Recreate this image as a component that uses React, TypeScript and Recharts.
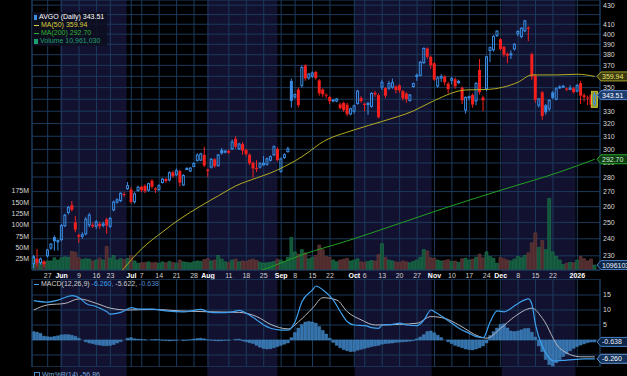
import React from "react";
import {
  ComposedChart,
  Bar,
  Line,
  XAxis,
  YAxis,
  CartesianGrid,
  ReferenceArea,
  ReferenceLine,
  Cell,
} from "recharts";

// ---------- look ----------
const FONT = "'Liberation Sans', Arial, Helvetica, sans-serif";
const GRID = "#1b3a5c";
const BAND = "#121230";
const BLUE = "#3a8ee6";
const RED = "#f5201e";
const MA50_COLOR = "#b4ac22";
const MA200_COLOR = "#22a022";
const MACD_COLOR = "#3ea0ee";
const SIGNAL_COLOR = "#b8b8c2";
const HIST_COLOR = "#3473ad";
const AXIS_TEXT = "#d8d8d8";

// ---------- calendar (categories) ----------
const FIRST_SESSION = "2025-05-20";
const SESSION_COUNT = 163; // last slot (2026-01-12) is empty
const HOLIDAYS = ["2025-05-26", "2025-06-19", "2025-07-04", "2025-09-01", "2025-11-27", "2025-12-25", "2026-01-01"];

function buildSessions(): string[] {
  const out: string[] = [];
  const d = new Date(FIRST_SESSION + "T00:00:00Z");
  while (out.length < SESSION_COUNT) {
    const iso = d.toISOString().slice(0, 10);
    const wd = d.getUTCDay();
    if (wd !== 0 && wd !== 6 && !HOLIDAYS.includes(iso)) out.push(iso);
    d.setUTCDate(d.getUTCDate() + 1);
  }
  return out;
}
const SESSIONS = buildSessions();

// ---------- x tick labels ----------
const TICK_DATES = [
  "2025-05-27", "2025-06-02", "2025-06-09", "2025-06-16", "2025-06-23", "2025-07-01", "2025-07-07",
  "2025-07-14", "2025-07-21", "2025-07-28", "2025-08-01", "2025-08-11", "2025-08-18", "2025-08-25",
  "2025-09-02", "2025-09-08", "2025-09-15", "2025-09-22", "2025-10-01", "2025-10-06", "2025-10-13",
  "2025-10-20", "2025-10-27", "2025-11-03", "2025-11-10", "2025-11-17", "2025-11-24", "2025-12-01",
  "2025-12-08", "2025-12-15", "2025-12-22", "2026-01-02",
];
const TICK_LABELS = [
  "27", "Jun", "9", "16", "23", "Jul", "7", "14", "21", "28", "Aug", "11", "18", "25", "Sep", "8",
  "15", "22", "Oct", "6", "13", "20", "27", "Nov", "10", "17", "24", "Dec", "8", "15", "22", "2026",
];
const BOLD_LABELS = ["Jun", "Jul", "Aug", "Sep", "Oct", "Nov", "Dec", "2026"];
const MONTH_BANDS: [string, string][] = [
  ["2025-06-02", "2025-07-01"],
  ["2025-08-01", "2025-09-02"],
  ["2025-10-01", "2025-11-03"],
  ["2025-12-01", "2026-01-02"],
];

// ---------- price (daily OHLC) ----------
const OPENS = [
  225.5, 228.5, 226.2, 226.8, 230, 234.5, 241, 238.2, 239.5, 248,
  256.3, 261, 250, 242.2, 241.5, 243, 248.5, 248.6, 247.6, 249.2,
  248.2, 252, 247.6, 258, 263, 264, 268.4, 272, 271.5, 263.2,
  270.8, 273.3, 274, 271, 277.5, 272.2, 271.3, 276.2, 278.6, 278,
  283.4, 281.5, 284.2, 274.5, 285.5, 284.3, 287.5, 291.9, 292, 296,
  285.2, 287, 292.7, 288, 299.5, 297.9, 298.8, 300.4, 308, 300.4,
  304, 299.5, 296, 290, 286.3, 287, 288.6, 289, 292, 296,
  300.4, 284, 294, 298.3, 356, 342, 348.5, 352, 370, 358.5,
  360.2, 364, 356.5, 348.5, 344, 342, 338.6, 338.5, 335.8, 337,
  335.5, 327.7, 330, 336.5, 341, 336.3, 335.5, 334, 345.5, 343.5,
  350.5, 349.6, 349.6, 350.5, 351, 352, 347, 345, 339, 351,
  360, 361, 372.5, 386, 378, 372, 351.5, 358.5, 359.8, 353.6,
  356.5, 357.5, 356, 350, 331, 341.5, 343.6, 338.6, 365.7, 341.6,
  349, 384, 384.6, 398.6, 395, 387.5, 381, 379.8, 385.5, 400.5,
  397.6, 403.3, 406.6, 380.5, 361, 335, 346, 335, 332, 346,
  340, 349.9, 350.7, 349.3, 348.5, 349.5, 347, 354, 343.5, 341.6,
  343.5, 336,
];
const HIGHS = [
  230.5, 234, 229, 227.5, 234, 237.5, 242, 239.5, 249, 255.5,
  260.5, 263.7, 254, 243, 244, 253.5, 256, 250, 251.5, 250.5,
  250.5, 253, 253.5, 264, 265.5, 269.5, 269.5, 276.5, 273, 269.5,
  274, 274, 275, 276, 278.5, 273, 275, 279.5, 279.5, 284,
  284.5, 286, 285, 282, 287, 287, 290.5, 297, 297.5, 302,
  286, 293.5, 293.5, 296.5, 301, 299.5, 300, 307.5, 310, 305,
  305.5, 300.5, 297, 291, 292, 290.5, 295, 294, 295.5, 303,
  301.5, 294, 297, 302, 358, 345, 350, 370, 371, 363,
  364.5, 365, 357.5, 349.5, 345, 343, 340, 341, 337, 338,
  337, 333, 335.5, 348, 342.5, 337, 338, 346, 347, 345,
  357, 350.5, 356, 358, 352, 353, 348, 346, 344.5, 354.5,
  362.5, 374, 387, 387, 379, 373, 360, 362, 361, 355,
  359.5, 359, 357, 351, 342.5, 343, 345, 355, 376, 343,
  379, 388, 399, 404, 396, 388.5, 382, 384, 391, 404,
  407, 414.5, 408, 382, 362, 341, 347, 336, 340, 347,
  350.5, 352, 352.5, 350, 352, 350.5, 353, 356, 345, 343,
  344.5, 346,
];
const LOWS = [
  223, 224, 225, 224, 229, 233.5, 233, 233, 238.5, 247,
  255, 257, 244, 237.5, 240, 242, 247, 246.5, 246, 246,
  247, 243, 246.5, 257, 262, 263, 266.5, 271, 262, 262,
  270, 269.5, 269, 270, 272, 269, 270.5, 275.5, 276, 277,
  279.5, 281, 273.5, 274, 285, 283.5, 287, 291, 291.5, 287,
  280, 286, 286.5, 287.5, 296, 297, 296.5, 299.5, 300.5, 299.5,
  296, 295, 288.5, 279.5, 283.5, 286, 288, 288, 291, 295,
  291, 283, 293, 297.5, 333, 340.5, 333, 350, 356, 357,
  358.5, 357, 343, 342, 341, 336, 337.5, 337.5, 331.5, 329.5,
  326, 326.5, 328, 335.5, 337, 330, 327, 333, 342, 324,
  348, 341, 348, 349, 345, 345.5, 339, 337, 338, 350,
  356, 360, 371.5, 376, 367, 356, 350, 355, 352, 345,
  353, 349, 353, 336, 328, 339, 333, 335, 344, 330,
  347, 373, 383, 397, 384, 378, 372, 376, 384, 398,
  396, 402, 393, 357, 337, 333, 323, 327, 330, 340,
  339, 349, 350, 347, 348, 345, 346, 336, 338, 335,
  333, 334,
];
const CLOSES = [
  229.5, 226, 228.2, 225.3, 233.4, 236.8, 238.5, 238.9, 248, 254.5,
  259.4, 258, 245.5, 241.2, 242.5, 252, 254.6, 247.5, 250.3, 247.6,
  249, 248, 252.5, 263, 264.5, 268.8, 267.8, 274, 263, 268.5,
  273, 271, 270.3, 275.4, 273.2, 271.2, 274, 278.5, 277.2, 283,
  280.5, 284.5, 276, 281, 286, 286.3, 289.6, 295.8, 296.6, 288,
  284.2, 292.7, 287.6, 295.8, 297, 298.7, 297.5, 305.5, 302, 304,
  299, 296.6, 289.7, 286, 285.5, 289.5, 289.8, 293, 294.6, 302,
  292, 293, 296, 300.4, 338.6, 344, 335, 368, 358, 362,
  363, 358.5, 345, 344.2, 343, 338.3, 339.4, 340.2, 332.5, 331,
  327.5, 332, 334.5, 347, 338.5, 335.2, 336.5, 345, 344, 325,
  354.5, 343, 353.6, 354.3, 348, 347.5, 340.8, 340, 343.6, 353.6,
  361, 373, 386, 378, 370, 357, 358.5, 359.8, 354.6, 348.5,
  358, 351, 354, 339, 341.5, 342.2, 335.5, 353.6, 346, 339,
  378, 386.7, 397.6, 403, 385.4, 380, 379, 380.8, 390, 402.6,
  406, 413.5, 405.3, 359.7, 339.5, 340.2, 326, 329, 339, 341.2,
  349, 350.6, 351.2, 348.2, 349.6, 346, 352, 343, 341.8, 341,
  335.5, 343.51,
];

// ---------- volume (millions) ----------
const VOLUME_M = [
  27, 22, 17, 18, 20, 20, 27, 22, 27, 29,
  28, 41, 39, 27, 23, 25, 24, 20, 22, 26,
  22, 52, 26, 32, 22, 25, 23, 26, 32, 20,
  15, 16, 17, 18, 16, 17, 15, 18, 16, 19,
  17, 15, 22, 18, 17, 16, 18, 20, 19, 23,
  25, 20, 22, 32, 24, 18, 17, 22, 24, 18,
  20, 19, 22, 24, 21, 17, 15, 16, 17, 19,
  24, 22, 18, 28, 72, 40, 35, 45, 38, 25,
  28, 32, 55, 45, 30, 28, 22, 18, 22, 24,
  26, 20, 22, 25, 18, 17, 19, 21, 20, 34,
  58, 28, 22, 20, 18, 17, 20, 18, 16, 19,
  22, 28, 45, 42, 27, 26, 22, 20, 21, 23,
  19, 20, 17, 25, 26, 22, 24, 28, 35, 27,
  40, 30, 26, 15, 28, 25, 22, 20, 24, 30,
  27, 32, 38, 60, 82, 50, 65, 45, 158, 40,
  30, 22, 12, 15, 17, 16, 22, 30, 25, 20,
  24, 10.961,
];

// ---------- moving averages: [session number, value] ----------
const MA50_POINTS: [number, number][] = [
  [25, 221.0], [26, 223.2], [31, 234.1], [37, 244.2], [42, 252.2], [48, 260.6], [53, 267.2],
  [58, 273.9], [64, 279.4], [68, 282.9], [72, 287.5], [75, 291.5], [79, 298.2], [82, 304.1],
  [92, 315.0], [100, 321.7], [109, 330.3], [115, 339.0], [124, 348.0], [130, 348.4],
  [139, 354.8], [143, 361.3], [150, 361.3], [156, 361.9], [161, 359.94],
];
const MA200_POINTS: [number, number][] = [
  [61, 219.3], [65, 221.6], [77, 230.6], [91, 239.4], [105, 249.4], [119, 259.9],
  [134, 270.9], [151, 283.6], [161, 292.7],
];

// ---------- MACD(12,26,9) ----------
const MACD_POINTS: [number, number][] = [
  [0, 13.1], [4, 12.6], [7, 13.3], [11, 14.8], [13, 14.1], [15, 12.2], [18, 11.1], [21, 9.4],
  [22, 8.6], [25, 9.2], [28, 10.8], [30, 10.3], [34, 10.3], [38, 9.7], [43, 9.4], [48, 10.2],
  [50, 9.4], [53, 9.1], [57, 9.4], [59, 9.9], [61, 8.9], [64, 6.7], [66, 5.0], [68, 3.9],
  [71, 3.3], [73, 3.3], [75, 6.1], [77, 12.8], [80, 16.7], [81, 18.0], [83, 16.7], [86, 13.3],
  [88, 9.4], [90, 6.1], [92, 5.0], [95, 4.8], [97, 4.1], [99, 3.9], [100, 5.0], [103, 5.2],
  [105, 5.6], [107, 5.0], [110, 4.8], [112, 6.7], [114, 10.0], [115, 9.4], [118, 7.2],
  [120, 5.6], [122, 3.9], [125, 2.2], [127, 1.1], [129, 0.8], [131, 6.1], [133, 9.7],
  [135, 9.4], [137, 10.6], [139, 12.2], [142, 13.7], [143, 11.7], [144, 5.0], [146, -2.2],
  [148, -6.1], [149, -7.0], [153, -6.7], [158, -6.3], [160, -6.3], [161, -6.26],
];
const SIGNAL_POINTS: [number, number][] = [
  [0, 10.0], [4, 11.7], [9, 12.2], [13, 13.7], [18, 12.2], [22, 10.6], [27, 10.0], [34, 10.2],
  [42, 9.7], [50, 9.4], [59, 9.2], [64, 7.8], [68, 5.2], [73, 3.7], [76, 6.1], [80, 10.6],
  [83, 14.1], [87, 13.3], [90, 9.4], [94, 6.7], [98, 5.0], [105, 5.2], [110, 5.6], [114, 7.8],
  [118, 7.2], [122, 5.0], [128, 1.1], [130, 0.6], [134, 3.9], [138, 7.8], [143, 10.6],
  [146, 7.2], [151, -2.8], [157, -5.6], [161, -5.62],
];
const HISTOGRAM = [
  2.8, 2.6, 2.2, 1.3, 1.1, 1.0, 1.2, 1.4, 1.7, 1.8,
  1.8, 1.6, 1.2, 0.6, 0.0, -0.6, -1.0, -1.2, -1.5, -1.7,
  -1.9, -1.9, -1.8, -1.5, -1.0, -0.5, 0.0, 0.6, 0.8, 0.4,
  0.3, 0.2, 0.1, 0.0, 0.1, 0.2, 0.1, -0.1, -0.2, -0.3,
  -0.2, -0.1, 0.0, -0.2, -0.1, 0.1, 0.3, 0.5, 0.6, 0.4,
  0.1, -0.1, -0.2, -0.3, -0.2, -0.1, -0.1, 0.0, 0.2, 0.3,
  -0.3, -0.6, -0.9, -1.2, -1.8, -2.4, -2.8, -3.0, -2.9, -2.6,
  -2.2, -1.8, -1.4, -1.0, 0.8, 2.5, 4.0, 5.2, 6.0, 6.2,
  6.0, 5.6, 4.5, 3.2, 2.0, 0.6, -0.8, -1.8, -2.6, -3.2,
  -3.6, -3.9, -3.8, -3.4, -3.1, -2.8, -2.5, -2.2, -2.0, -1.8,
  -1.4, -1.2, -1.1, -1.0, -0.8, -0.7, -0.6, -0.5, -0.4, -0.2,
  0.4, 1.0, 1.8, 2.8, 3.0, 2.4, 1.6, 0.8, 0.0, -0.6,
  -1.2, -1.8, -2.2, -2.6, -3.0, -3.2, -3.3, -3.0, -2.6, -2.0,
  -1.0, 1.5, 2.8, 4.0, 5.2, 5.4, 4.0, 3.0, 2.8, 3.0,
  3.4, 3.8, 3.9, 2.6, 1.0, -2.0, -3.9, -6.5, -8.2, -8.8,
  -7.6, -6.5, -5.5, -4.6, -3.6, -2.8, -2.2, -1.7, -1.3, -0.9,
  -0.7, -0.638,
];

// ---------- axes ----------
const PRICE_DOMAIN: [number, number] = [222, 435.6];
const PRICE_TICKS = [230, 240, 250, 260, 270, 280, 290, 300, 310, 320, 330, 340, 350, 360, 370, 380, 390, 400, 410, 420, 430];
// labels hidden behind the value tags (340, 360) or not printed (420) in the reference
const PRICE_LABEL_SKIP = [340, 360, 420];
const VOL_DOMAIN: [number, number] = [0, 596];
const VOL_TICKS = [25, 50, 75, 100, 125, 150, 175];
const MACD_DOMAIN: [number, number] = [-9, 20.33];
const MACD_TICKS = [-5, 0, 5, 10, 15];

// ---------- data table ----------
function sparse(points: [number, number][]): (number | null)[] {
  const arr: (number | null)[] = new Array(SESSION_COUNT).fill(null);
  points.forEach(([n, v]) => (arr[n] = v));
  return arr;
}
const MA50 = sparse(MA50_POINTS);
const MA200 = sparse(MA200_POINTS);
const MACD = sparse(MACD_POINTS);
const SIGNAL = sparse(SIGNAL_POINTS);

const rows = SESSIONS.map((date, n) => {
  const has = n < CLOSES.length;
  const o = has ? OPENS[n] : null;
  const h = has ? HIGHS[n] : null;
  const l = has ? LOWS[n] : null;
  const c = has ? CLOSES[n] : null;
  const up = has ? n === 0 || (c as number) >= CLOSES[n - 1] : true;
  return {
    date,
    o, h, l, c, up,
    last: n === CLOSES.length - 1,
    range: has ? [l, h] : null,
    vol: n < VOLUME_M.length ? VOLUME_M[n] : null,
    ma50: MA50[n],
    ma200: MA200[n],
    macd: MACD[n],
    sig: SIGNAL[n],
    hist: n < HISTOGRAM.length ? HISTOGRAM[n] : null,
  };
});

function prevSession(date: string): string {
  const k = SESSIONS.indexOf(date);
  return SESSIONS[Math.max(0, k - 1)];
}

// ---------- shapes ----------
const Candle = (props: any) => {
  const { x, y, width, height, payload } = props;
  if (!payload || payload.o == null || !(height > 0)) return <g />;
  const { o, h, l, c, up, last } = payload;
  const lh = Math.log(h);
  const ll = Math.log(l);
  const yv = (v: number) => y + (height * (lh - Math.log(v))) / (lh - ll);
  const cx = x + width / 2;
  const col = up ? BLUE : RED;
  const yo = yv(o);
  const yc = yv(c);
  const top = Math.min(yo, yc);
  const bot = Math.max(yo, yc);
  const hollow = c > o;
  const bodyH = Math.max(bot - top, 1);
  return (
    <g>
      {last && (
        <rect x={cx - 3} y={y - 1} width={6} height={height + 2} fill="#9c9a1c" stroke="#d4d040" strokeWidth={0.8} />
      )}
      <line x1={cx} x2={cx} y1={y} y2={top} stroke={col} strokeWidth={1} />
      <line x1={cx} x2={cx} y1={top + bodyH} y2={y + height} stroke={col} strokeWidth={1} />
      {hollow ? (
        <rect x={cx - 1} y={top} width={2} height={bodyH} fill="none" stroke={col} strokeWidth={1} />
      ) : (
        <rect x={cx - 1.5} y={top} width={3} height={bodyH} fill={col} />
      )}
    </g>
  );
};

const XTick = (props: any) => {
  const { x, y, payload } = props;
  const k = TICK_DATES.indexOf(payload.value);
  if (k < 0) return <g />;
  const label = TICK_LABELS[k];
  const bold = BOLD_LABELS.includes(label);
  return (
    <text x={x} y={y + 8} textAnchor="middle" fontSize={7} fontFamily={FONT}
      fontWeight={bold ? 700 : 400} fill={bold ? "#ffffff" : "#d0d0d0"}>
      {label}
    </text>
  );
};

const PriceTick = (props: any) => {
  const { x, y, payload } = props;
  if (PRICE_LABEL_SKIP.includes(payload.value)) return <g />;
  return (
    <text x={x} y={y} dy="0.355em" fontSize={7} fontFamily={FONT} fill={AXIS_TEXT} textAnchor="start">
      {payload.value}
    </text>
  );
};

const VolTick = (props: any) => {
  const { x, y, payload } = props;
  return (
    <text x={x} y={y} dy="0.355em" fontSize={7} fontFamily={FONT} fill={AXIS_TEXT} textAnchor="end">
      {`${payload.value}M`}
    </text>
  );
};

const MacdTick = (props: any) => {
  const { x, y, payload } = props;
  if (payload.value <= 0) return <g />;
  return (
    <text x={x} y={y} dy="0.355em" fontSize={7} fontFamily={FONT} fill={AXIS_TEXT} textAnchor="start">
      {payload.value}
    </text>
  );
};

const tagLabel = (text: string, fill: string, stroke: string, color: string) => (props: any) => {
  const vb = props.viewBox || {};
  const x0 = (vb.x ?? 0) + (vb.width ?? 0);
  const yc = vb.y ?? 0;
  const hh = 4.5;
  const d = `M${x0 - 3},${yc} L${x0 + 1},${yc - hh} L${x0 + 36},${yc - hh} L${x0 + 36},${yc + hh} L${x0 + 1},${yc + hh} Z`;
  return (
    <g>
      <path d={d} fill={fill} stroke={stroke} strokeWidth={1} />
      <text x={x0 + 2} y={yc} dy="0.36em" fontSize={7} fontFamily={FONT} fill={color}>
        {text}
      </text>
    </g>
  );
};

// ---------- layers ----------
const W = 627;
const MAIN_H = 280;
const X_AXIS_H = 10;
const LEFT_W = 32;
const RIGHT_W = 27;

function BandLayer() {
  return (
    <ComposedChart width={W} height={376} data={rows} margin={{ top: 0, right: RIGHT_W, bottom: 0, left: LEFT_W }}>
      <XAxis dataKey="date" type="category" hide />
      <YAxis hide domain={[0, 1000]} />
      {MONTH_BANDS.map(([a, b]) => (
        <ReferenceArea key={a} x1={a} x2={prevSession(b)} fill={BAND} fillOpacity={1} stroke="none" />
      ))}
      <Line dataKey="c" stroke="none" dot={false} isAnimationActive={false} />
    </ComposedChart>
  );
}

function MainAxes(showTicks: boolean) {
  return [
    <XAxis key="x" dataKey="date" type="category" ticks={TICK_DATES} interval={0} height={X_AXIS_H}
      tickLine={false} axisLine={false} tickSize={0} tickMargin={0} tick={showTicks ? <XTick /> : false} />,
    <YAxis key="v" yAxisId="vol" orientation="left" width={LEFT_W} domain={VOL_DOMAIN} ticks={VOL_TICKS}
      interval={0} allowDataOverflow tickLine={false} axisLine={false} tickSize={0} tickMargin={3}
      tick={showTicks ? <VolTick /> : false} />,
    <YAxis key="p" yAxisId="price" orientation="right" width={RIGHT_W} scale="log" domain={PRICE_DOMAIN}
      ticks={PRICE_TICKS} interval={0} allowDataOverflow tickLine={false} axisLine={false} tickSize={0}
      tickMargin={3} tick={showTicks ? <PriceTick /> : false} />,
  ];
}

function MainBase() {
  return (
    <ComposedChart width={W} height={MAIN_H} data={rows} margin={{ top: 0, right: 0, bottom: 0, left: 0 }}>
      {MainAxes(true)}
      <CartesianGrid yAxisId="price" stroke={GRID} strokeWidth={1} />
      <Bar yAxisId="vol" dataKey="vol" barSize={3} isAnimationActive={false}>
        {rows.map((r) => (
          <Cell key={r.date} fill={r.up ? "#13543a" : "#4e2c2e"} stroke={r.up ? "#1f7a50" : "#6e3c3e"} strokeWidth={0.6} />
        ))}
      </Bar>
    </ComposedChart>
  );
}

function MainTop() {
  return (
    <ComposedChart width={W} height={MAIN_H} data={rows} margin={{ top: 0, right: 0, bottom: 0, left: 0 }}>
      {MainAxes(false)}
      <ReferenceLine yAxisId="price" x={SESSIONS[0]} position="start" stroke={GRID} />
      <ReferenceLine yAxisId="price" x={SESSIONS[SESSIONS.length - 1]} position="end" stroke={GRID} />
      <ReferenceLine yAxisId="price" y={PRICE_DOMAIN[0]} stroke={GRID} />
      <Line yAxisId="price" dataKey="ma200" type="monotone" connectNulls dot={false} stroke={MA200_COLOR}
        strokeWidth={1} isAnimationActive={false} />
      <Line yAxisId="price" dataKey="ma50" type="monotone" connectNulls dot={false} stroke={MA50_COLOR}
        strokeWidth={1} isAnimationActive={false} />
      <Bar yAxisId="price" dataKey="range" barSize={3} isAnimationActive={false} shape={(p: any) => <Candle {...p} />} />
      <ReferenceLine yAxisId="price" y={359.94} stroke="none" label={tagLabel("359.94", "#3a3a0c", "#a8a430", "#ece478")} />
      <ReferenceLine yAxisId="price" y={343.51} stroke="none" label={tagLabel("343.51", "#1c3c6e", "#5a8ad0", "#ffffff")} />
      <ReferenceLine yAxisId="price" y={292.7} stroke="none" label={tagLabel("292.70", "#0c3c10", "#2ea62e", "#d8f8d8")} />
      <ReferenceLine yAxisId="vol" y={10.961} stroke="none" label={tagLabel("10961030", "#0e2646", "#4a7cc0", "#e8f0ff")} />
    </ComposedChart>
  );
}

function MacdLayer() {
  return (
    <ComposedChart width={W} height={88} data={rows} margin={{ top: 0, right: 0, bottom: 0, left: LEFT_W }}>
      <XAxis dataKey="date" type="category" ticks={TICK_DATES} interval={0} hide />
      <YAxis yAxisId="m" orientation="right" width={RIGHT_W} domain={MACD_DOMAIN} ticks={MACD_TICKS} interval={0}
        allowDataOverflow tickLine={false} axisLine={false} tickSize={0} tickMargin={3} tick={<MacdTick />} />
      <CartesianGrid yAxisId="m" stroke={GRID} strokeWidth={1} />
      <ReferenceLine yAxisId="m" y={MACD_DOMAIN[1]} stroke={GRID} />
      <ReferenceLine yAxisId="m" y={MACD_DOMAIN[0]} stroke={GRID} />
      <ReferenceLine yAxisId="m" x={SESSIONS[0]} position="start" stroke={GRID} />
      <ReferenceLine yAxisId="m" x={SESSIONS[SESSIONS.length - 1]} position="end" stroke={GRID} />
      <Bar yAxisId="m" dataKey="hist" barSize={3} fill={HIST_COLOR} stroke="#4a8ac4" strokeWidth={0.4} isAnimationActive={false} />
      <Line yAxisId="m" dataKey="sig" type="monotone" connectNulls dot={false} stroke={SIGNAL_COLOR}
        strokeWidth={1} isAnimationActive={false} />
      <Line yAxisId="m" dataKey="macd" type="monotone" connectNulls dot={false} stroke={MACD_COLOR}
        strokeWidth={1.2} isAnimationActive={false} />
      <ReferenceLine yAxisId="m" y={-0.638} stroke="none" label={tagLabel("-0.638", "#0e2646", "#4a80c4", "#e8f0ff")} />
      <ReferenceLine yAxisId="m" y={-6.26} stroke="none" label={tagLabel("-6.260", "#12325a", "#6a9ad8", "#ffffff")} />
    </ComposedChart>
  );
}

const lineIcon = (color: string) => (
  <span style={{ display: "inline-block", width: 5, height: 1, background: color, verticalAlign: "middle", marginRight: 2 }} />
);

export default function App() {
  return (
    <div style={{ position: "absolute", left: 0, top: 0, width: W, height: 376, background: "#000", overflow: "hidden", fontFamily: FONT }}>
      <div style={{ position: "absolute", left: 0, top: 0 }}><BandLayer /></div>
      <div style={{ position: "absolute", left: 0, top: 0 }}><MainBase /></div>
      <div style={{ position: "absolute", left: 0, top: 279 }}><MacdLayer /></div>
      <div style={{ position: "absolute", left: 0, top: 0 }}><MainTop /></div>

      <div style={{ position: "absolute", left: 32, top: 12, background: "rgba(14,14,32,0.85)", padding: "1px 3px 1px 2px",
        fontSize: 7, lineHeight: "8px", whiteSpace: "nowrap" }}>
        <div style={{ color: "#ffffff" }}>
          <span style={{ display: "inline-block", width: 3, height: 5, background: BLUE, verticalAlign: "middle", marginRight: 2 }} />
          AVGO (Daily) 343.51
        </div>
        <div style={{ color: "#d8cf3a" }}>{lineIcon("#d8cf3a")}MA(50) 359.94</div>
        <div style={{ color: "#2fb22f" }}>{lineIcon("#2fb22f")}MA(200) 292.70</div>
        <div style={{ color: "#1fa070" }}>
          <span style={{ display: "inline-block", width: 4, height: 5, background: "#1fa070", verticalAlign: "middle", marginRight: 2 }} />
          Volume 10,961,030
        </div>
      </div>

      <div style={{ position: "absolute", left: 34, top: 280, fontSize: 7, lineHeight: "8px", whiteSpace: "nowrap", color: "#d0d0d0" }}>
        {lineIcon(MACD_COLOR)}
        <span>MACD(12,26,9) </span>
        <span style={{ color: MACD_COLOR }}>-6.260, </span>
        <span style={{ color: "#c8c8c8" }}>-5.622, </span>
        <span style={{ color: "#4a88c8" }}>-0.638</span>
      </div>

      <div style={{ position: "absolute", left: 34, top: 371, fontSize: 7, lineHeight: "8px", whiteSpace: "nowrap", color: "#7aa8d8" }}>
        <span style={{ display: "inline-block", width: 4, height: 4, border: "1px solid #4a88c8", verticalAlign: "middle", marginRight: 2 }} />
        Wm%R(14) -56.86
      </div>
    </div>
  );
}
